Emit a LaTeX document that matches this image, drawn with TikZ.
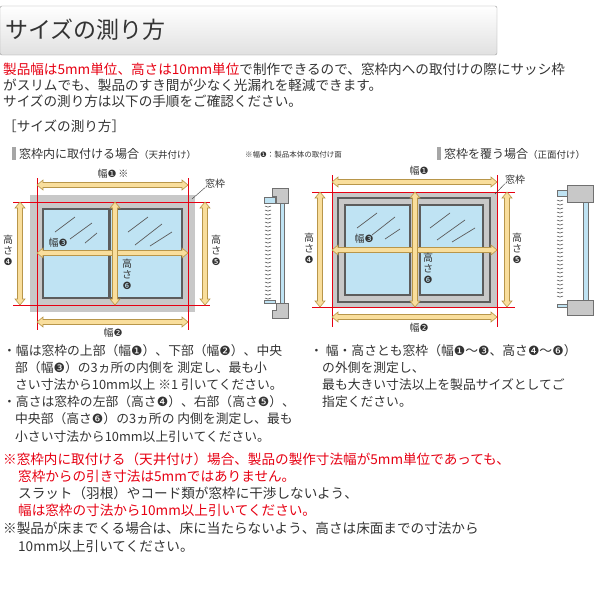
\documentclass[tikz,border=0pt]{standalone}
\usepackage{fontspec}
\setmainfont{Noto Sans CJK JP}
\newfontfamily\dvsans{DejaVu Sans}
\newcommand{\cn}[1]{{\dvsans #1}}
\definecolor{myred}{HTML}{E60012}
\definecolor{framegray}{HTML}{C8C8C8}
\definecolor{glass}{HTML}{BFE3F3}
\definecolor{arrfill}{HTML}{F9DE9C}
\definecolor{arrline}{HTML}{B8964A}
\definecolor{txt}{HTML}{333333}
\tikzset{
 T/.style={anchor=base west,inner sep=0,font=\fontsize{13.6}{14}\selectfont,text=txt},
 TB/.style={T,font=\fontsize{12.8}{14}\selectfont},
 lab/.style={inner sep=0,font=\fontsize{10}{11}\selectfont,text=txt,align=center},
 arrsty/.style={fill=arrfill,draw=arrline,line width=0.6pt,line join=miter},
 pane/.style={fill=glass,draw=txt!80,line width=1.2pt},
 gl/.style={draw=txt!80,line width=0.7pt},
 sidegray/.style={fill=framegray,draw=txt!70,line width=0.5pt},
 sideblue/.style={fill=glass,draw=txt!70,line width=0.5pt},
}
\newcommand{\harr}[3]{\draw[arrsty] (#1,#3) -- ++(6,-5) -- ++(0,2.5) -- (#2-6,#3-2.5) -- ++(0,-2.5) -- (#2,#3) -- ++(-6,5) -- ++(0,-2.5) -- (#1+6,#3+2.5) -- ++(0,2.5) -- cycle;}
\newcommand{\varr}[3]{\draw[arrsty] (#1,#2) -- ++(-5,6) -- ++(2.5,0) -- (#1-2.5,#3-6) -- ++(-2.5,0) -- (#1,#3) -- ++(5,-6) -- ++(-2.5,0) -- (#1+2.5,#2+6) -- ++(2.5,0) -- cycle;}
\begin{document}
\begin{tikzpicture}[x=1pt,y=-1pt]
\useasboundingbox (0,0) rectangle (600,600);
% title
\shade[top color=white,bottom color=black!12,draw=black!40,rounded corners=2pt] (0,6) rectangle (497,55);
\node[anchor=west,inner sep=0,font=\fontsize{23}{23}\selectfont,text=txt] (title) at (5,30) {サイズの測り方};
\node[T] (l1) at (3,74) {\textcolor{myred}{製品幅は5mm単位、高さは10mm単位}で制作できるので、窓枠内への取付けの際にサッシ枠};
\node[T] (l2) at (3,90) {がスリムでも、製品のすき間が少なく光漏れを軽減できます。};
\node[T] (l3) at (3,106) {サイズの測り方は以下の手順をご確認ください。};
\node[T] (l4) at (3,131) {［サイズの測り方］};
% headers
\fill[black!35] (12,147) rectangle (16,160);
\node[T,font=\fontsize{12}{12}\selectfont] (h1) at (19,158) {窓枠内に取付ける場合\fontsize{9.5}{9}\selectfont（天井付け）};
\node[T,font=\fontsize{7.5}{8}\selectfont] (note) at (245,157) {※幅\cn{❶}：製品本体の取付け面};
\fill[black!35] (437,147) rectangle (441,160);
\node[T,font=\fontsize{12}{12}\selectfont] (h2) at (444,158) {窓枠を覆う場合\fontsize{9.5}{9}\selectfont（正面付け）};

% ===== left diagram
\fill[framegray] (30,195) rectangle (195,312);
\draw[pane] (43,209) rectangle (109,298);
\draw[pane] (110,209) rectangle (182,298);
\draw[pane,fill=none] (43,252) -- (109,252);
\draw[pane,fill=none] (110,252) -- (182,252);
\draw[gl] (55,232)--(75,217) (70,239)--(92,223) (85,243)--(97,233);
\draw[gl] (128,232)--(148,217) (135,245)--(162,224) (150,246)--(172,232);
\draw[myred,line width=0.9pt] (37,202) rectangle (188,305);
\draw[myred,line width=0.4pt] (37,178)--(37,330) (188,178)--(188,330) (13,202)--(210,202) (13,305)--(210,305);
\harr{37}{188}{185}
\harr{37}{188}{322}
\harr{37}{188}{253}
\varr{20}{202}{305}
\varr{205}{202}{305}
\varr{115}{202}{305}
\node[lab] (t1) at (113,174) {幅\cn{❶}\,※};
\node[lab] (t2) at (113,333) {幅\cn{❷}};
\node[lab] (t3) at (58,243) {幅\cn{❸}};
\node[lab] (t4) at (8,250) {高\\さ\\\cn{❹}};
\node[lab] (t5) at (216,250) {高\\さ\\\cn{❺}};
\node[lab] (t6) at (127,274) {高\\さ\\\cn{❻}};
\node[lab] (w1) at (215,184) {窓枠};
\coordinate (w1c) at (192,199);
\draw[txt,line width=0.4pt] (w1.south west) ++(0,-1) -- (w1c);
% side view left
\fill[sideblue] (280,203) rectangle (284,303);
\filldraw[sidegray] (272,188) -- (288,188) -- (288,203) -- (276,203) -- (276,196) -- (272,196) -- cycle;
\filldraw[sideblue] (264,197) rectangle (275,203);
\filldraw[sidegray] (272,318) -- (288,318) -- (288,303) -- (276,303) -- (276,310) -- (272,310) -- cycle;
\filldraw[sideblue] (264,300) rectangle (275,303);
\foreach \yy in {206,210,...,298} \draw[txt,line width=0.5pt] (265,\yy) .. controls (268,\yy+1.5) .. (271,\yy);

% ===== right diagram
\fill[framegray] (332,192) rectangle (497,307);
\draw[txt!80,line width=1.2pt] (338,198) rectangle (490,302);
\draw[pane] (345,205) rectangle (410,295);
\draw[pane] (420,205) rectangle (483,295);
\draw[txt!80,line width=1.2pt] (415,198)--(415,302);
\draw[pane,fill=none] (345,250) -- (410,250) (420,250) -- (483,250);
\draw[gl] (357,228)--(377,213) (372,235)--(395,217) (385,239)--(400,229);
\draw[gl] (430,228)--(450,213) (437,240)--(465,220) (452,242)--(475,228);
\draw[myred,line width=0.9pt] (332,192) rectangle (497,307);
\draw[myred,line width=0.4pt] (332,175)--(332,327) (497,175)--(497,327) (312,192)--(515,192) (312,307)--(515,307);
\harr{332}{497}{182}
\harr{332}{497}{317}
\harr{332}{497}{250}
\varr{320}{192}{307}
\varr{507}{192}{307}
\varr{415}{192}{307}
\node[lab] (u1) at (419,171) {幅\cn{❶}};
\node[lab] (u2) at (419,328) {幅\cn{❷}};
\node[lab] (u3) at (364,239) {幅\cn{❸}};
\node[lab] (u4) at (309,248) {高\\さ\\\cn{❹}};
\node[lab] (u5) at (517,248) {高\\さ\\\cn{❺}};
\node[lab] (u6) at (428,268) {高\\さ\\\cn{❻}};
\node[lab] (w2) at (515,180) {窓枠};
\coordinate (w2c) at (495,194);
\draw[txt,line width=0.4pt] (w2.south west) ++(0,-1) -- (w2c);
% side view right
\fill[sideblue] (583,202) rectangle (588,300);
\filldraw[sidegray] (567,185) rectangle (593,202);
\filldraw[sideblue] (557,190) rectangle (567,196);
\filldraw[sidegray] (567,300) rectangle (593,315);
\filldraw[sideblue] (557,304) rectangle (567,307);
\foreach \yy in {200,204,...,298} \draw[txt,line width=0.5pt] (557,\yy) .. controls (560,\yy+1.5) .. (563,\yy);

% bullets
\node[TB] (p1) at (3,355) {・幅は窓枠の上部（幅\cn{❶}）、下部（幅\cn{❷}）、中央};
\node[TB] (p2) at (15,372) {部（幅\cn{❸}）の3ヵ所の内側を 測定し、最も小};
\node[TB] (p3) at (15,389) {さい寸法から10mm以上 ※1 引いてください。};
\node[TB] (p4) at (3,406) {・高さは窓枠の左部（高さ\cn{❹}）、右部（高さ\cn{❺}）、};
\node[TB] (p5) at (15,423) {中央部（高さ\cn{❻}）の3ヵ所の 内側を測定し、最も};
\node[TB] (p6) at (15,441) {小さい寸法から10mm以上引いてください。};
\node[TB] (q1) at (310,355) {・ 幅・高さとも窓枠（幅\cn{❶}〜\cn{❸}、高さ\cn{❹}〜\cn{❻}）};
\node[TB] (q2) at (322,372) {の外側を測定し、};
\node[TB] (q3) at (322,389) {最も大きい寸法以上を製品サイズとしてご};
\node[TB] (q4) at (322,406) {指定ください。};
\node[T,text=myred] (r1) at (3,464) {※窓枠内に取付ける（天井付け）場合、製品の製作寸法幅が5mm単位であっても、};
\node[T,text=myred] (r2) at (18,481) {窓枠からの引き寸法は5mmではありません。};
\node[T] (r3) at (18,498) {スラット（羽根）やコード類が窓枠に干渉しないよう、};
\node[T,text=myred] (r4) at (18,515) {幅は窓枠の寸法から10mm以上引いてください。};
\node[T] (r5) at (3,533) {※製品が床までくる場合は、床に当たらないよう、高さは床面までの寸法から};
\node[T] (r6) at (18,551) {10mm以上引いてください。};
\end{tikzpicture}
\end{document}
